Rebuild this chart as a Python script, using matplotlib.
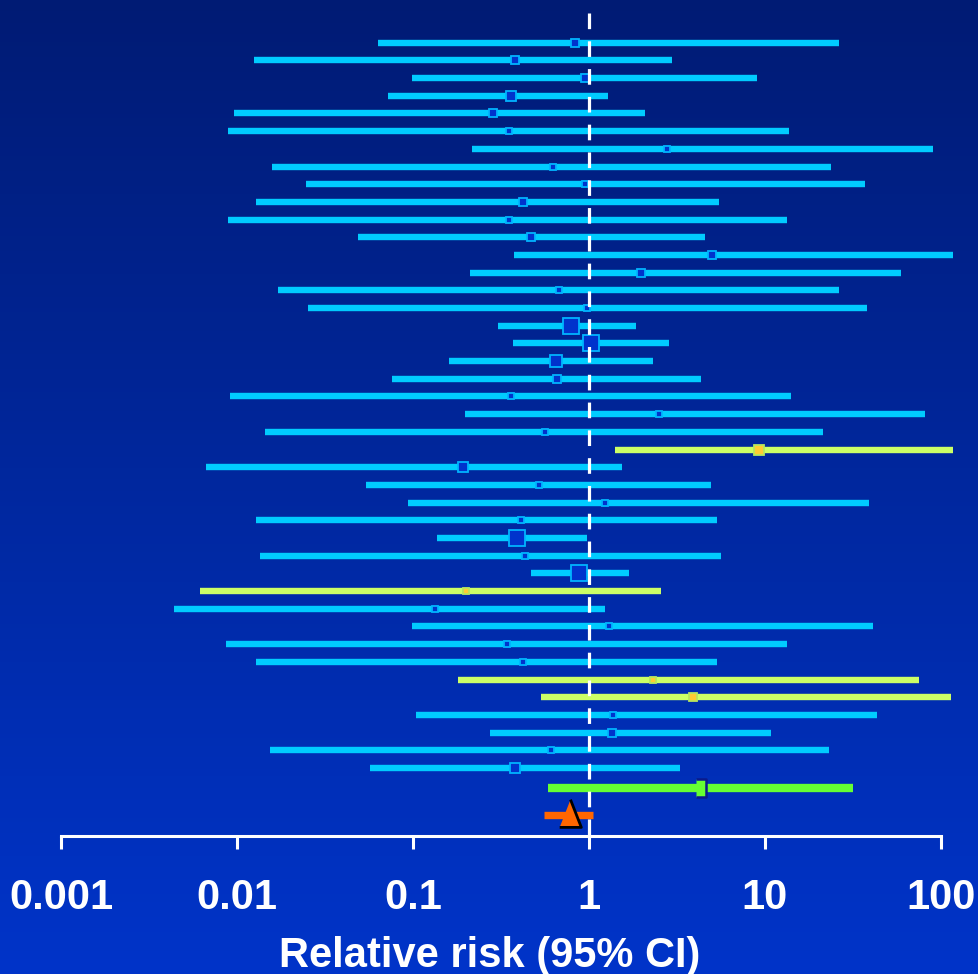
import numpy as np
import matplotlib
matplotlib.use("Agg")
import matplotlib.pyplot as plt
from matplotlib.colors import LinearSegmentedColormap

# relative risk and 95% CI for each study, top to bottom
rr = [0.83, 0.378, 0.944, 0.36, 0.285, 0.353, 2.78, 0.623, 0.95, 0.42,
      0.353, 0.469, 4.98, 1.98, 0.677, 0.978, 0.789, 1.03, 0.645, 0.659,
      0.36, 2.51, 0.561, 9.29, 0.193, 0.517, 1.24, 0.411, 0.392, 0.432,
      0.881, 0.201, 0.133, 1.30, 0.341, 0.423, 2.31, 3.91, 1.37, 1.36,
      0.606, 0.378]
ci_low = [0.063, 0.0125, 0.099, 0.0722, 0.0096, 0.0089, 0.217, 0.0158, 0.0247, 0.0128,
          0.0089, 0.0486, 0.376, 0.211, 0.0171, 0.0254, 0.305, 0.368, 0.159, 0.0763,
          0.0091, 0.196, 0.0143, 1.40, 0.00666, 0.0543, 0.0939, 0.0128, 0.136, 0.0135,
          0.466, 0.00617, 0.00436, 0.099, 0.00866, 0.0128, 0.181, 0.531, 0.104, 0.275,
          0.0154, 0.057]
ci_high = [26.3, 2.98, 8.98, 1.29, 2.07, 13.7, 90.3, 23.7, 36.9, 5.45,
           13.3, 4.55, 117, 59.6, 26.3, 37.9, 1.86, 2.84, 2.31, 4.31,
           14.1, 81.3, 21.3, 117, 1.55, 4.91, 39.0, 5.34, 0.97, 5.61,
           1.68, 2.56, 1.23, 41.2, 13.3, 5.34, 75.4, 114, 43.3, 10.8,
           23.1, 3.31]
# study weight (%), drives the square size
weight = [0.73, 0.82, 0.73, 1.46, 0.73, 0.58, 0.58, 0.5, 0.5, 0.82,
          0.58, 0.91, 0.82, 0.82, 0.58, 0.5, 2.78, 2.94, 1.85, 0.73,
          0.5, 0.58, 0.5, 1.46, 1.1, 0.58, 0.5, 0.58, 2.78, 0.58,
          2.94, 0.66, 0.66, 0.5, 0.66, 0.58, 0.5, 0.91, 0.66, 0.91,
          0.58, 1.22]
# studies drawn in yellow-green
highlight = [23, 31, 36, 37]

# pooled estimates (rr, low, high)
pooled_green = (4.31, 0.582, 31.5)
pooled_orange = (0.778, 0.558, 1.05)

ticks = [0.001, 0.01, 0.1, 1, 10, 100]
tick_labels = ["0.001", "0.01", "0.1", "1", "10", "100"]

W, H = 979, 974
fig = plt.figure(figsize=(W / 100, H / 100), dpi=100)

# background gradient
bg = fig.add_axes([0, 0, 1, 1], zorder=0)
cmap = LinearSegmentedColormap.from_list("bg", ["#001B74", "#0034C9"])
bg.imshow(np.linspace(0, 1, 256).reshape(-1, 1), cmap=cmap, aspect="auto",
          extent=[0, 1, 0, 1])
bg.axis("off")

axis_px = 836
ax = fig.add_axes([0, (H - axis_px) / H, 1, axis_px / H], zorder=1)
ax.patch.set_alpha(0)

row_px = 17.69
top_px = 42.7
px_per_dec = 175.9
one_px = 589
ax.set_xscale("log")
ax.set_xlim(10 ** (-one_px / px_per_dec), 10 ** ((W - one_px) / px_per_dec))
ax.set_ylim((axis_px - top_px) / row_px, -top_px / row_px)

cyan = "#00CCFF"
yellow = "#CCFF66"
for i in range(len(rr)):
    hl = i in highlight
    col = yellow if hl else cyan
    ax.plot([ci_low[i], ci_high[i]], [i, i], color=col, lw=4.6,
            solid_capstyle="butt", zorder=2)
    side = 10.5 * np.sqrt(weight[i])
    ms = (side - 1.7) / 1.389
    if hl:
        ax.plot(rr[i], i, marker="s", ms=ms, mfc="#FFCC33", mec="#B8E65C",
                mew=1.3, zorder=3)
    else:
        ax.plot(rr[i], i, marker="s", ms=ms, mfc="#0033CC", mec="#00B4FF",
                mew=1.3, zorder=3)

n = len(rr)
y_green = n + 0.15
y_orange = n + 1.66
est, lo, hi = pooled_green
ax.plot([lo, hi], [y_green, y_green], color="#66FF33", lw=6,
        solid_capstyle="butt", zorder=2)
ax.plot(est, y_green, marker=[(-0.5, -0.9), (0.5, -0.9), (0.5, 0.9), (-0.5, 0.9)],
        ms=13.5, mfc="#66FF33", mec="#0A1A8C", mew=1.8, zorder=3)

est, lo, hi = pooled_orange
ax.plot([lo, hi], [y_orange, y_orange], color="#FF6600", lw=5.3,
        solid_capstyle="butt", zorder=2)
ax.plot(est, y_orange - 0.1, marker=[(-0.78, -1), (0.78, -1), (0, 1)], ms=20,
        mfc="#FF6600", mec="black", mew=2, zorder=4)

# line of no effect
ax.plot([1, 1], [-30 / row_px, (axis_px + 2 - top_px) / row_px], color="white",
        lw=2.3, ls=(0, (4.9, 3.8)), zorder=5, clip_on=False)

for s in ["top", "left", "right"]:
    ax.spines[s].set_visible(False)
ax.spines["bottom"].set_color("white")
ax.spines["bottom"].set_linewidth(2.2)
ax.spines["bottom"].set_bounds(0.001, 100)
ax.set_yticks([])
ax.set_xticks(ticks)
ax.set_xticklabels(tick_labels)
ax.minorticks_off()
ax.tick_params(axis="x", direction="out", length=9, width=2.2, color="white",
               pad=21, labelcolor="white", labelsize=30)
for t in ax.get_xticklabels():
    t.set_fontfamily("Liberation Sans")
    t.set_fontweight("bold")
ax.set_xlabel("Relative risk (95% CI)", color="white", fontsize=30,
              fontweight="bold", family="Liberation Sans", labelpad=13)

fig.savefig("out.png", dpi=100)
